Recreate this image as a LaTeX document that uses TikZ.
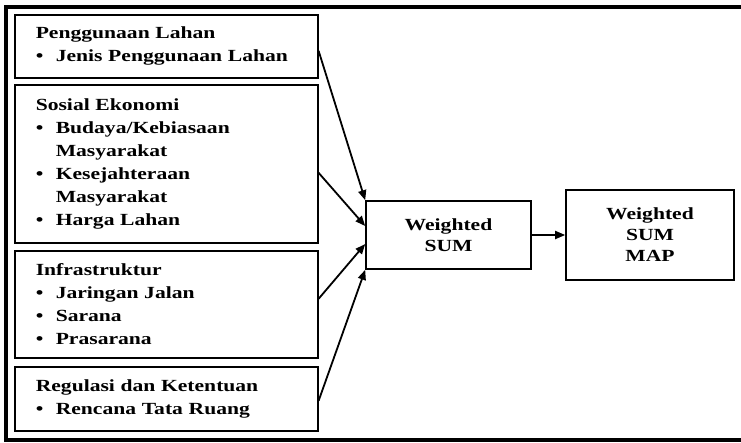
\documentclass[tikz,border=0pt]{standalone}
\usepackage{fontspec}
\setmainfont{Liberation Serif}[FakeStretch=1.27]
\usetikzlibrary{arrows.meta}
\newcommand{\bul}{\makebox[20pt][l]{\textbullet}}
\newcommand{\cont}{\hspace*{20pt}}
\begin{document}
\begin{tikzpicture}[x=1pt,y=-1pt,
  every node/.style={font=\fontsize{17}{23}\selectfont\bfseries},
  factor/.style={draw, line width=1.6pt, rectangle, anchor=north west,
    align=left, text width=261pt, inner xsep=21pt, inner ysep=0pt,
    minimum width=303pt},
  stage/.style={draw, line width=1.6pt, rectangle, align=center,
    inner sep=0pt, font=\fontsize{17}{21}\selectfont\bfseries},
  link/.style={line width=1.8pt, -{Triangle[length=10pt,width=8pt]}}
]
\useasboundingbox (0,0) rectangle (741,442);

% outer frame, open on the right
\draw[line width=3.5pt] (741,7) -- (6,7) -- (6,440) -- (741,440);

% input factors
\node[factor, minimum height=63pt] (b1) at (14,14)
  {Penggunaan Lahan\\ \bul Jenis Penggunaan Lahan};
\node[factor, minimum height=158pt] (b2) at (14,84)
  {Sosial Ekonomi\\ \bul Budaya/Kebiasaan\\ \cont Masyarakat\\
   \bul Kesejahteraan\\ \cont Masyarakat\\ \bul Harga Lahan};
\node[factor, minimum height=107pt] (b3) at (14,250)
  {Infrastruktur\\ \bul Jaringan Jalan\\ \bul Sarana\\ \bul Prasarana};
\node[factor, minimum height=64pt] (b4) at (14,366)
  {Regulasi dan Ketentuan\\ \bul Rencana Tata Ruang};

% processing and output
\node[stage, minimum width=165pt, minimum height=68pt] (ws) at (448.5,235)
  {Weighted\\ SUM};
\node[stage, minimum width=168pt, minimum height=90pt] (map) at (650,235)
  {Weighted\\ SUM\\ MAP};

% connectors
\draw[link] ([yshift=-4.5pt]b1.east) -- (ws.north west);
\draw[link] ([yshift=-9pt]b2.east) -- ([yshift=9pt]ws.west);
\draw[link] ([yshift=5.5pt]b3.east) -- ([yshift=-9pt]ws.west);
\draw[link] ([yshift=-2pt]b4.east) -- (ws.south west);
\draw[link] (ws.east) -- (map.west);
\end{tikzpicture}
\end{document}
